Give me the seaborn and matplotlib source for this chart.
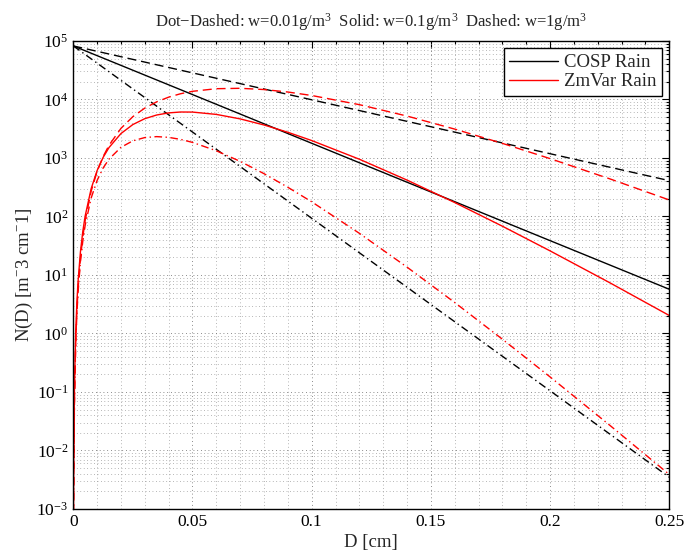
import numpy as np
import pandas as pd
import matplotlib
matplotlib.use("Agg")
import matplotlib.pyplot as plt
import matplotlib.ticker as mticker
from matplotlib.lines import Line2D
import seaborn as sns

# ---- drop-size distributions, N(D) in m^-3 cm^-1 ----
# COSP rain (exponential): straight lines on a log axis
cosp_D = [0.0, 0.05, 0.10, 0.15, 0.20, 0.25]
cosp_w001 = [8.2e4, 2.77e3, 93.0, 3.13, 0.105, 3.5e-3]
cosp_w01 = [8.2e4, 1.21e4, 1.78e3, 262.0, 38.6, 5.7]
cosp_w1 = [8.2e4, 2.84e4, 9.86e3, 3.41e3, 1.18e3, 409.0]

# ZmVar rain (gamma shaped)
zm_D = [0.00008, 0.0001, 0.0002, 0.0005, 0.001, 0.0015, 0.002, 0.003, 0.004,
        0.005, 0.0075, 0.01, 0.0125, 0.015, 0.02, 0.025, 0.03, 0.035, 0.04,
        0.045, 0.05, 0.06, 0.07, 0.08, 0.09, 0.10, 0.12, 0.14, 0.16, 0.18,
        0.20, 0.225, 0.25]
zm_w001 = [2.1e-4, 4.2e-4, 3.84e-3, 0.0694, 0.605, 2.11, 5.04, 16.8, 38.4,
           71.4, 207.0, 413.0, 671.0, 956.0, 1518.0, 1963.0, 2228.0, 2312.0,
           2245.0, 2074.0, 1842.0, 1326.0, 873.0, 538.0, 315.0, 178.0, 51.5,
           13.6, 3.38, 0.798, 0.181, 0.0271, 3.9e-3]
zm_w01 = [5.1e-4, 1.0e-3, 8.1e-3, 0.128, 1.01, 3.35, 7.77, 24.9, 55.8,
          102.8, 299.0, 609.0, 1019.0, 1507.0, 2611.0, 3721.0, 4685.0, 5415.0,
          5881.0, 6090.0, 6073.0, 5541.0, 4645.0, 3656.0, 2743.0, 1982.0, 950.0,
          418.0, 172.8, 68.1, 25.8, 7.38, 2.03]
zm_w1 = [2.8e-4, 5.6e-4, 4.83e-3, 0.0823, 0.695, 2.40, 5.73, 19.3, 45.1,
         86.1, 270.5, 589.6, 1051.0, 1649.0, 3201.0, 5079.0, 7101.0, 9095.0,
         10925.0, 12495.0, 13745.0, 15236.0, 15477.0, 14741.0, 13369.0, 11667.0,
         8131.0, 5193.0, 3109.0, 1773.0, 973.0, 439.8, 191.3]

series_labels = ["COSP Rain", "ZmVar Rain"]
title_text = ("Dot\u2212Dashed: w=0.01g/m$^3$  Solid: w=0.1g/m$^3$  "
              "Dashed: w=1g/m$^3$")

sns.set_style("white")
plt.rcParams["font.family"] = ["Liberation Serif", "DejaVu Serif"]
plt.rcParams["mathtext.fontset"] = "custom"
plt.rcParams["mathtext.rm"] = "Liberation Serif"
plt.rcParams["mathtext.it"] = "Liberation Serif:italic"
plt.rcParams["mathtext.bf"] = "Liberation Serif:bold"
plt.rcParams["axes.unicode_minus"] = True

fig = plt.figure(figsize=(6.85, 5.54), dpi=100)
ax = fig.add_axes([0.107, 0.0812, 0.870, 0.845])

dashed = (6.5, 3.5)
dashdot = (5.5, 2.5, 1, 2.5)

cosp = pd.DataFrame({"D": cosp_D, "w001": cosp_w001, "w01": cosp_w01, "w1": cosp_w1})
zm = pd.DataFrame({"D": zm_D, "w001": zm_w001, "w01": zm_w01, "w1": zm_w1})

lw = 1.0
for df, color in [(cosp, "black"), (zm, "red")]:
    sns.lineplot(data=df, x="D", y="w01", color=color, lw=lw, ax=ax,
                 estimator=None, sort=False)
    l = sns.lineplot(data=df, x="D", y="w1", color=color, lw=lw, ax=ax,
                     estimator=None, sort=False).lines[-1]
    l.set_dashes(dashed)
    l = sns.lineplot(data=df, x="D", y="w001", color=color, lw=lw, ax=ax,
                     estimator=None, sort=False).lines[-1]
    l.set_dashes(dashdot)

ax.set_yscale("log")
ax.set_xlim(0, 0.25)
ax.set_ylim(1e-3, 1e5)

ax.xaxis.set_major_locator(mticker.FixedLocator([0, 0.05, 0.1, 0.15, 0.2, 0.25]))
ax.xaxis.set_major_formatter(mticker.FixedFormatter(["0", "0.05", "0.1", "0.15", "0.2", "0.25"]))
ax.xaxis.set_minor_locator(mticker.MultipleLocator(0.01))
ax.yaxis.set_major_locator(mticker.LogLocator(base=10, numticks=20))
ax.yaxis.set_minor_locator(mticker.LogLocator(base=10, subs=np.arange(2, 10), numticks=100))
ax.yaxis.set_minor_formatter(mticker.NullFormatter())
ax.xaxis.offsetText.set_visible(False)
ax.yaxis.offsetText.set_visible(False)

ax.grid(True, which="major", linestyle=(0, (1, 3.5)), color="#666666", lw=0.6)
ax.grid(True, which="minor", linestyle=(0, (1, 3.5)), color="#8c8c8c", lw=0.55)
ax.set_axisbelow(True)

ax.tick_params(which="both", direction="in", top=True, right=True,
               colors="black", labelsize=12.5, width=0.8)
ax.tick_params(which="major", length=5)
ax.tick_params(which="minor", length=2.5)
for s in ax.spines.values():
    s.set_color("black")
    s.set_linewidth(1.0)

ax.set_xlabel("D [cm]", fontsize=13.5, labelpad=3)
ax.set_ylabel("N(D) [m$^{-}$3 cm$^{-}$1]", fontsize=13.5, labelpad=1)
ax.set_title(title_text, fontsize=12, pad=10)

handles = [Line2D([], [], color="black", lw=lw), Line2D([], [], color="red", lw=lw)]
leg = ax.legend(handles, series_labels, loc="upper right", fontsize=13.5,
                frameon=True, fancybox=False, framealpha=1, edgecolor="black",
                borderpad=0.3, handlelength=2.6, handletextpad=0.3,
                labelspacing=0.1, borderaxespad=0.4)
leg.get_frame().set_linewidth(1.0)

fig.savefig("out.png", dpi=100)
